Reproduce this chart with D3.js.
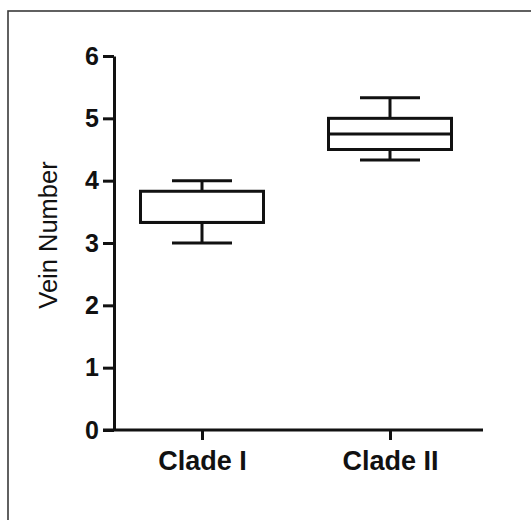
<!DOCTYPE html>
<html>
<head>
<meta charset="utf-8">
<script src="https://cdn.jsdelivr.net/npm/d3@7"></script>
<style>
  body { margin: 0; background: #fff; }
  svg { display: block; }
</style>
</head>
<body>
<div class="root"></div>
<script>
const categories = ['Clade I', 'Clade II'];
const mins = [3.0, 4.33];
const q1s = [3.33, 4.5];
const medians = [3.33, 4.75];
const q3s = [3.83, 5.0];
const maxs = [4.0, 5.33];
const yTicks = [0, 1, 2, 3, 4, 5, 6];

const svgWidth = 531;
const svgHeight = 520;
const margin = { top: 56, left: 114, bottom: 90, right: 48 };

const svg = d3.select('.root')
  .append('svg')
  .attr('width', svgWidth)
  .attr('height', svgHeight);

svg.append('rect')
  .attr('x', 8)
  .attr('y', 11)
  .attr('width', svgWidth)
  .attr('height', svgHeight)
  .attr('fill', '#fff')
  .attr('stroke', '#3a3a3a')
  .attr('stroke-width', 1.6);

const y = d3.scaleLinear()
  .domain([0, 6])
  .range([svgHeight - margin.bottom, margin.top]);

const x = d3.scalePoint()
  .domain(categories)
  .range([108, 484])
  .padding(0.5);

const boxWidth = 123;
const capWidth = 60;

// y axis
const yAxis = svg.append('g')
  .attr('transform', `translate(${margin.left},0)`)
  .call(d3.axisLeft(y).tickValues(yTicks).tickFormat(d3.format('d'))
    .tickSize(11).tickSizeOuter(0).tickPadding(4));

// x axis
const xAxis = svg.append('g')
  .attr('transform', `translate(0,${y(0)})`)
  .call(d3.axisBottom(x).tickSize(10).tickSizeOuter(0).tickPadding(11));

xAxis.select('.domain').attr('d', `M${margin.left - 11},0H${svgWidth - margin.right}`);

[yAxis, xAxis].forEach(ax => {
  ax.selectAll('.domain, line')
    .attr('stroke', '#111')
    .attr('stroke-width', 3);
  ax.selectAll('text')
    .attr('fill', '#111')
    .style('font-family', '"Liberation Sans", Arial, sans-serif')
    .style('font-weight', 'bold');
});
yAxis.selectAll('text').style('font-size', '25px');
xAxis.selectAll('text').style('font-size', '27px');

svg.append('text')
  .attr('transform', `translate(48,235) rotate(-90)`)
  .attr('text-anchor', 'middle')
  .attr('dy', '0.35em')
  .attr('fill', '#111')
  .style('font-family', '"Liberation Sans", Arial, sans-serif')
  .style('font-size', '25.5px')
  .text('Vein Number');

// boxes
const boxes = svg.selectAll('.box')
  .data(categories)
  .enter()
  .append('g')
  .attr('class', 'box')
  .attr('stroke', '#111')
  .attr('stroke-width', 3)
  .attr('fill', 'none');

boxes.append('line')
  .attr('x1', d => x(d)).attr('x2', d => x(d))
  .attr('y1', (d, i) => y(maxs[i])).attr('y2', (d, i) => y(q3s[i]));
boxes.append('line')
  .attr('x1', d => x(d)).attr('x2', d => x(d))
  .attr('y1', (d, i) => y(q1s[i])).attr('y2', (d, i) => y(mins[i]));
boxes.append('line')
  .attr('x1', d => x(d) - capWidth / 2).attr('x2', d => x(d) + capWidth / 2)
  .attr('y1', (d, i) => y(maxs[i])).attr('y2', (d, i) => y(maxs[i]));
boxes.append('line')
  .attr('x1', d => x(d) - capWidth / 2).attr('x2', d => x(d) + capWidth / 2)
  .attr('y1', (d, i) => y(mins[i])).attr('y2', (d, i) => y(mins[i]));
boxes.append('rect')
  .attr('x', d => x(d) - boxWidth / 2)
  .attr('width', boxWidth)
  .attr('y', (d, i) => y(q3s[i]))
  .attr('height', (d, i) => y(q1s[i]) - y(q3s[i]))
  .attr('fill', '#fff');
boxes.append('line')
  .attr('x1', d => x(d) - boxWidth / 2).attr('x2', d => x(d) + boxWidth / 2)
  .attr('y1', (d, i) => y(medians[i])).attr('y2', (d, i) => y(medians[i]));
</script>
</body>
</html>
